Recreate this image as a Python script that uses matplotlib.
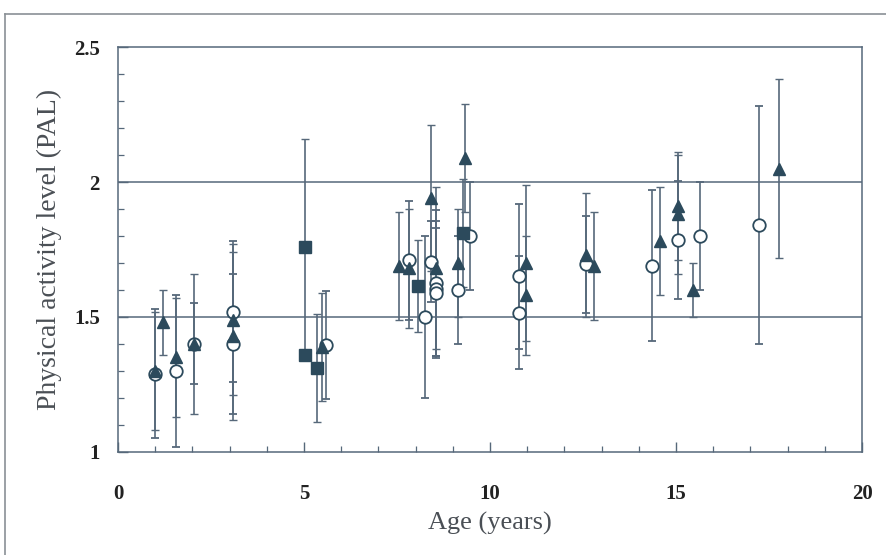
import matplotlib.pyplot as plt
from matplotlib.lines import Line2D
from matplotlib.ticker import MultipleLocator

# triangles (filled)
tri_age = [1.0, 1.2, 1.55, 2.04, 3.1, 3.1, 5.47, 7.55, 7.83, 8.42, 8.55, 9.34, 9.13,
           10.96, 10.96, 12.58, 12.8, 14.58, 15.06, 15.06, 15.45, 17.76]
tri_pal = [1.30, 1.48, 1.35, 1.40, 1.49, 1.43, 1.39, 1.69, 1.68, 1.94, 1.68, 2.09, 1.70,
           1.70, 1.58, 1.73, 1.69, 1.78, 1.91, 1.88, 1.60, 2.05]
tri_err = [0.22, 0.12, 0.22, 0.26, 0.28, 0.31, 0.20, 0.20, 0.22, 0.27, 0.30, 0.20, 0.20,
           0.29, 0.22, 0.23, 0.20, 0.20, 0.20, 0.22, 0.10, 0.33]

# open circles
circ_age = [1.0, 1.55, 2.04, 3.1, 3.1, 5.6, 7.83, 8.25, 8.4, 8.55, 8.55, 8.55, 9.46,
            9.13, 10.78, 10.78, 12.58, 14.36, 15.06, 15.65, 17.24]
circ_pal = [1.29, 1.30, 1.40, 1.52, 1.40, 1.395, 1.71, 1.50, 1.705, 1.625, 1.605, 1.588, 1.80,
            1.60, 1.65, 1.516, 1.695, 1.69, 1.785, 1.80, 1.84]
circ_err = [0.24, 0.28, 0.15, 0.26, 0.26, 0.20, 0.22, 0.30, 0.15, 0.27, 0.25, 0.24, 0.20,
            0.20, 0.27, 0.21, 0.18, 0.28, 0.22, 0.20, 0.44]

# filled squares
sq_age = [5.03, 5.03, 5.34, 8.05, 9.28]
sq_pal = [1.76, 1.36, 1.31, 1.615, 1.81]
sq_err = [0.40, 0.0, 0.20, 0.17, 0.20]

ref_lines = [1.5, 2.0]

MARK = "#2c4a5c"
BAR = "#56687a"

plt.rcParams.update({"font.family": ["Liberation Serif", "DejaVu Serif"]})

fig = plt.figure(figsize=(8.86, 5.55), dpi=100)
ax = fig.add_axes([0.1332, 0.1856, 0.8398, 0.7297])

for y in ref_lines:
    ax.axhline(y, color=BAR, linewidth=1.1, zorder=1)

ebar = dict(ecolor=BAR, elinewidth=1.2, capsize=3, capthick=1.0, linestyle="none", zorder=2)
ax.errorbar(circ_age, circ_pal, yerr=circ_err, fmt="o", markersize=9, markerfacecolor="white",
            markeredgecolor=MARK, markeredgewidth=1.3, **ebar)
ax.errorbar(sq_age, sq_pal, yerr=sq_err, fmt="s", markersize=9, markerfacecolor=MARK,
            markeredgecolor=MARK, **ebar)
ax.errorbar(tri_age, tri_pal, yerr=tri_err, fmt="^", markersize=9, markerfacecolor=MARK,
            markeredgecolor=MARK, **ebar)

ax.set_xlim(0, 20)
ax.set_ylim(1, 2.5)
ax.xaxis.set_minor_locator(MultipleLocator(1))
ax.yaxis.set_minor_locator(MultipleLocator(0.1))
ax.set_xticks([0, 5, 10, 15, 20])
ax.set_xticklabels(["0", "5", "10", "15", "20"])
ax.set_yticks([1, 1.5, 2, 2.5])
ax.set_yticklabels(["1", "1.5", "2", "2.5"])
ax.tick_params(which="both", direction="in", color=BAR, top=False, right=False)
ax.tick_params(which="major", length=7, width=1)
ax.tick_params(which="minor", length=4, width=0.9)
ax.tick_params(axis="x", which="major", pad=23, labelsize=15, labelcolor="#222222")
ax.tick_params(axis="y", which="major", pad=13, labelsize=15, labelcolor="#222222")
for lab in ax.get_xticklabels() + ax.get_yticklabels():
    lab.set_fontweight("bold")
for s in ax.spines.values():
    s.set_color(BAR)
    s.set_linewidth(1.1)

ax.set_xlabel("Age (years)", fontsize=19, color="#4a4f55", labelpad=6)
ax.set_ylabel("Physical activity level (PAL)", fontsize=20, color="#4a4f55", labelpad=9)

# outer frame (left and top edges)
fig.add_artist(Line2D([0.0056, 0.0056], [0.0, 0.975], color="#8a9096", linewidth=1.2))
fig.add_artist(Line2D([0.0056, 1.0], [0.975, 0.975], color="#8a9096", linewidth=1.2))

fig.savefig("out.png", dpi=100)
plt.close(fig)
